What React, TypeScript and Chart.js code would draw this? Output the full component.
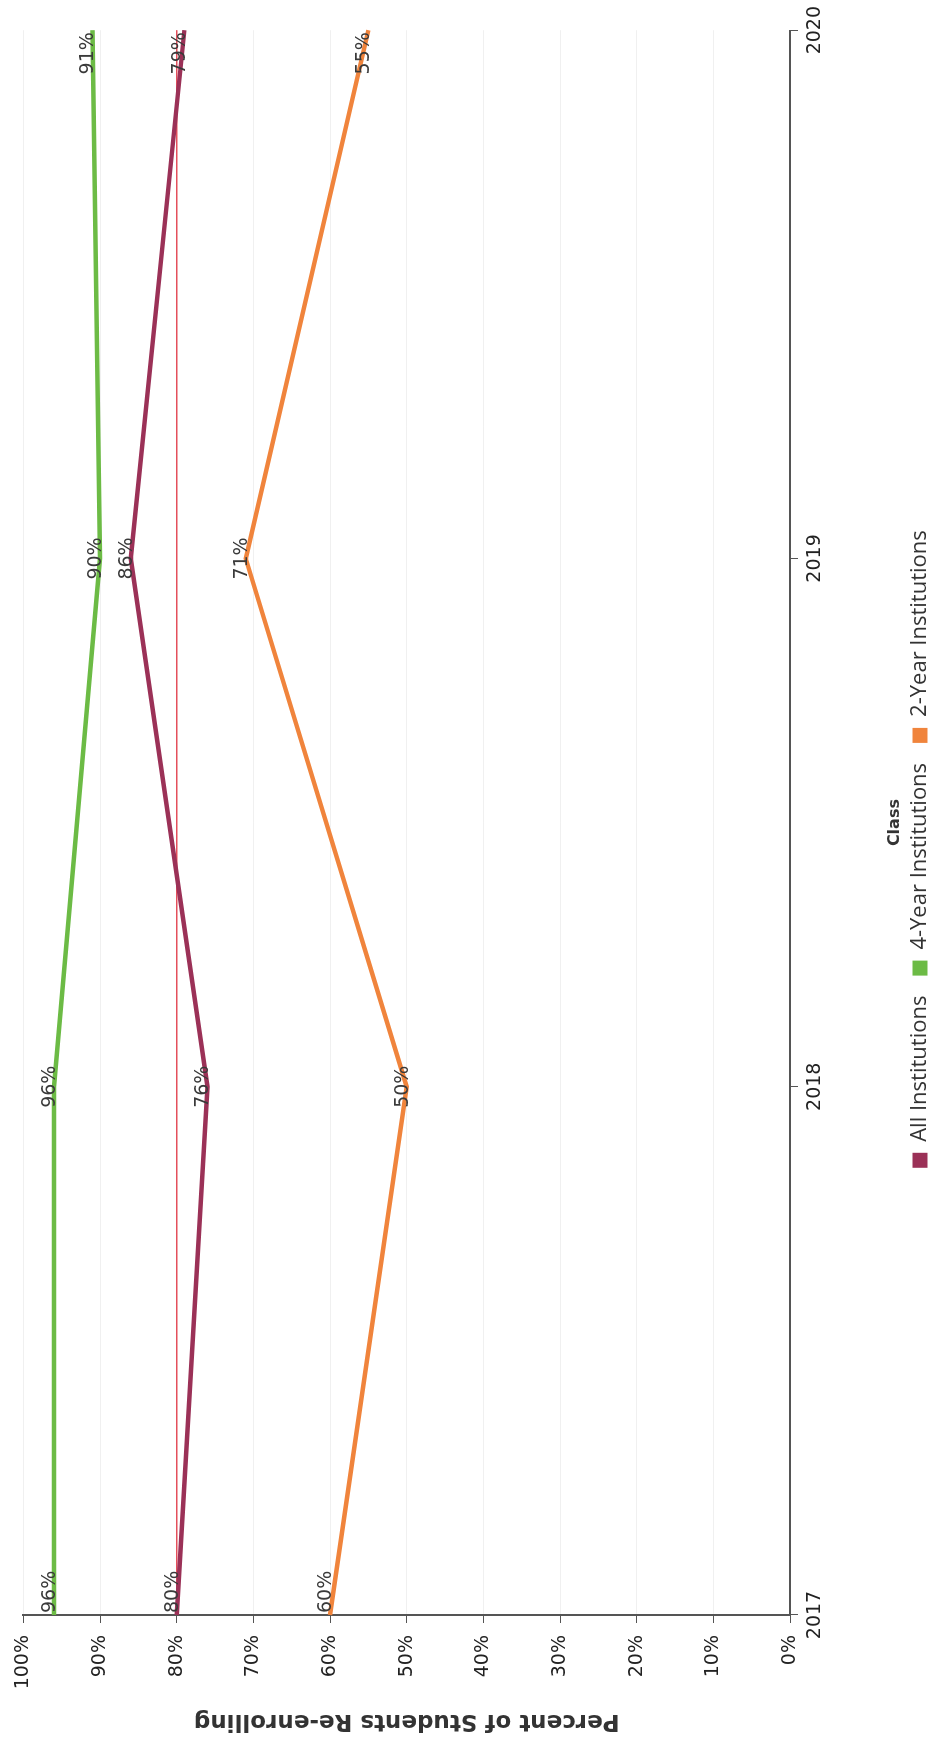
import React, { useEffect, useRef } from "react";
import { Chart, registerables } from "chart.js";

Chart.register(...registerables);

const categories = ["2017", "2018", "2019", "2020"];
const allInstitutions = [80, 76, 86, 79];
const fourYear = [96, 96, 90, 91];
const twoYear = [60, 50, 71, 55];
const benchmark = [80, 80, 80, 80];
const seriesLabels = ["All Institutions", "4-Year Institutions", "2-Year Institutions"];
const percentTicks = [0, 10, 20, 30, 40, 50, 60, 70, 80, 90, 100];

const W = 1743;
const H = 941;

const labelPlugin = {
  id: "pointLabels",
  afterDatasetsDraw(chart: any) {
    const { ctx, chartArea } = chart;
    ctx.save();
    ctx.font = '19px "DejaVu Sans"';
    ctx.fillStyle = "#3a3a3a";
    ctx.textBaseline = "alphabetic";
    ctx.textAlign = "left";
    chart.data.datasets.forEach((ds: any, i: number) => {
      if (ds.noLabels) return;
      const meta = chart.getDatasetMeta(i);
      meta.data.forEach((pt: any, j: number) => {
        const text = ds.data[j] + "%";
        const w = ctx.measureText(text).width;
        let x = pt.x - w / 2;
        x = Math.max(chartArea.left + 2, Math.min(chartArea.right - 2 - w, x));
        ctx.fillText(text, x, pt.y + 1);
      });
    });
    ctx.restore();
  },
};

const legendShift = {
  id: "legendShift",
  afterUpdate(chart: any) {
    const lg = chart.legend;
    if (lg) {
      lg.left += 36;
      lg.right += 36;
    }
  },
};

export default function App() {
  const ref = useRef<HTMLCanvasElement>(null);

  useEffect(() => {
    if (!ref.current) return;
    const chart = new Chart(ref.current, {
      type: "line",
      data: {
        labels: categories,
        datasets: [
          {
            label: seriesLabels[0],
            data: allInstitutions,
            borderColor: "#9b3157",
            backgroundColor: "#9b3157",
            borderWidth: 4.5,
            pointRadius: 0,
            order: 1,
          },
          {
            label: seriesLabels[1],
            data: fourYear,
            borderColor: "#6cbb45",
            backgroundColor: "#6cbb45",
            borderWidth: 4.5,
            pointRadius: 0,
            order: 2,
          },
          {
            label: seriesLabels[2],
            data: twoYear,
            borderColor: "#f0843c",
            backgroundColor: "#f0843c",
            borderWidth: 4.5,
            pointRadius: 0,
            order: 3,
          },
          {
            label: "",
            data: benchmark,
            borderColor: "#e4505c",
            backgroundColor: "#e4505c",
            borderWidth: 1.5,
            pointRadius: 0,
            order: 4,
            noLabels: true,
          } as any,
        ],
      },
      options: {
        animation: false,
        responsive: false,
        maintainAspectRatio: false,
        devicePixelRatio: 1,
        layout: { padding: { top: 12, right: 27, left: 0, bottom: 0 } },
        plugins: {
          tooltip: { enabled: false },
          legend: {
            position: "bottom",
            labels: {
              boxWidth: 15,
              boxHeight: 15,
              padding: 20,
              color: "#333",
              font: { family: '"Open Sans"', size: 22 },
              generateLabels: (c: any) =>
                c.data.datasets
                  .map((ds: any, i: number) => ({
                    text: ds.label,
                    fillStyle: ds.borderColor,
                    strokeStyle: ds.borderColor,
                    lineWidth: 0,
                    hidden: false,
                    datasetIndex: i,
                    fontColor: "#333",
                  }))
                  .filter((it: any) => it.datasetIndex < 3),
            },
          },
        },
        scales: {
          x: {
            type: "category",
            offset: false,
            afterFit: (s: any) => {
              s.height = 99;
            },
            grid: {
              drawOnChartArea: false,
              tickColor: "#555",
              tickLength: 8,
            },
            border: { color: "#555", width: 2 },
            ticks: {
              color: "#222",
              padding: 6,
              maxRotation: 0,
              font: { family: '"DejaVu Sans"', size: 19 },
            },
            title: {
              display: true,
              text: "Class",
              color: "#333",
              font: { family: '"DejaVu Sans"', size: 16, weight: "bold" },
              padding: { top: 0, bottom: -15 },
            },
          },
          y: {
            min: 0,
            max: 100,
            afterFit: (s: any) => {
              s.width = 128;
            },
            afterBuildTicks: (s: any) => {
              s.ticks = percentTicks.map((v) => ({ value: v }));
            },
            grid: {
              color: "#f0f0f0",
              lineWidth: 1,
              tickColor: "#555",
              tickLength: 8,
            },
            border: { color: "#555", width: 2 },
            ticks: {
              color: "#222",
              padding: 12,
              font: { family: '"DejaVu Sans"', size: 19 },
              callback: (v: any) => v + "%",
            },
            title: {
              display: true,
              text: "Percent of Students Re-enrolling",
              color: "#333",
              font: { family: '"DejaVu Sans"', size: 23, weight: "bold" },
              padding: { top: 8, bottom: 0 },
            },
          },
        },
      },
      plugins: [labelPlugin, legendShift],
    });
    return () => chart.destroy();
  }, []);

  return (
    <div
      style={{
        position: "fixed",
        left: 0,
        top: 0,
        width: 929,
        height: 1743,
        overflow: "hidden",
        background: "#fff",
      }}
    >
      <div
        style={{
          position: "absolute",
          left: 0,
          top: 0,
          width: W,
          height: H,
          transformOrigin: "0 0",
          transform: `translate(0px, ${W}px) rotate(-90deg)`,
        }}
      >
        <canvas ref={ref} width={W} height={H} style={{ display: "block", width: W, height: H }} />
      </div>
    </div>
  );
}
